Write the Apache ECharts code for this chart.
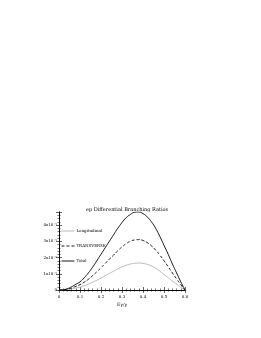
<!DOCTYPE html>
<html><head><meta charset="utf-8">
<script src="https://cdn.jsdelivr.net/npm/echarts@6/dist/echarts.min.js"></script>
<style>html,body{margin:0;padding:0;background:#fff}#c{width:261px;height:338px}</style>
</head><body><div id="c"></div>
<script>
const xValues = [0,0.02,0.04,0.06,0.08,0.10,0.12,0.14,0.16,0.18,0.20,0.22,0.24,0.26,0.28,0.30,0.32,0.34,0.36,0.38,0.40,0.42,0.44,0.46,0.48,0.50,0.52,0.54,0.56,0.58,0.60];
const totalVals = [0,0.02,0.08,0.2,0.35,0.5,0.75,1.05,1.4,1.8,2.2,2.6,3.0,3.4,3.8,4.15,4.45,4.65,4.78,4.8,4.7,4.5,4.2,3.8,3.3,2.75,2.2,1.6,1.05,0.5,0];
const transVals = [0,0.01,0.05,0.12,0.22,0.33,0.48,0.66,0.88,1.12,1.37,1.63,1.9,2.15,2.42,2.65,2.85,3.0,3.08,3.1,3.05,2.92,2.72,2.46,2.15,1.8,1.43,1.05,0.68,0.33,0];
const longVals = [0,0.01,0.03,0.07,0.12,0.18,0.26,0.36,0.48,0.6,0.74,0.88,1.02,1.16,1.3,1.42,1.52,1.6,1.64,1.66,1.64,1.58,1.48,1.34,1.16,0.96,0.76,0.55,0.37,0.17,0];
const seriesNames = ['Longitudinal','TRANSVERSE','Total'];
const xTickLabels = {'0':'0','0.1':'0.1','0.2':'0.2','0.3':'0.3','0.4':'0.4','0.5':'0.5','0.6':'0.6'};
const yTickLabels = {'0':'0','1':'1x10\u207B\u2075','2':'2x10\u207B\u2075','3':'3x10\u207B\u2075','4':'4x10\u207B\u2075'};
const titleText = 'ep Differential Branching Ratios';
const xTitle = 'E\u03B3/\u03B3';

const pair = (vals) => xValues.map((x,i)=>[x, vals[i]]);
const fnt = 'DejaVu Serif';
const axCommon = {
  axisLine:{show:true,lineStyle:{color:'#000',width:0.8}},
  axisTick:{show:true,inside:true,length:3,lineStyle:{color:'#000',width:0.6}},
  minorTick:{show:true,splitNumber:5,length:1.6,lineStyle:{color:'#000',width:0.5}},
  splitLine:{show:false}
};
const chart = echarts.init(document.getElementById('c'), null, {renderer:'canvas'});
chart.setOption({
  animation:false,
  backgroundColor:'#fff',
  title:{text:titleText,left:122,textAlign:'center',top:202,textStyle:{fontFamily:fnt,fontSize:5,fontWeight:'normal',color:'#000'}},
  legend:{orient:'vertical',left:56,top:224,itemGap:11,itemWidth:13,itemHeight:4,
    itemStyle:{opacity:0},
    lineStyle:{width:0.9},
    textStyle:{fontFamily:fnt,fontSize:4,color:'#000',padding:[0,0,0,-3]},
    data:seriesNames},
  grid:{left:59,right:76,top:212,bottom:48,containLabel:false},
  xAxis:[
    Object.assign({type:'value',min:0,max:0.6,interval:0.1,position:'bottom',
      name:xTitle,nameLocation:'middle',nameGap:12,
      nameTextStyle:{fontFamily:fnt,fontSize:4.5,color:'#000'},
      axisLabel:{fontFamily:fnt,fontSize:4,color:'#000',margin:5,formatter:v=>xTickLabels[String(+v.toFixed(1))]||''}},axCommon),
    Object.assign({type:'value',min:0,max:0.6,interval:0.1,position:'top',axisLabel:{show:false}},axCommon)
  ],
  yAxis:[
    Object.assign({type:'value',min:0,max:4.8,interval:1,position:'left',
      axisLabel:{fontFamily:fnt,fontSize:4,color:'#000',margin:2,formatter:v=>yTickLabels[String(v)]||''}},axCommon),
    Object.assign({type:'value',min:0,max:4.8,interval:1,position:'right',axisLabel:{show:false}},axCommon)
  ],
  series:[
    {name:seriesNames[0],type:'line',data:pair(longVals),showSymbol:false,symbol:'none',smooth:true,lineStyle:{color:'#b0b0b0',width:0.9},itemStyle:{color:'#b0b0b0'}},
    {name:seriesNames[1],type:'line',data:pair(transVals),showSymbol:false,symbol:'none',smooth:true,lineStyle:{color:'#000',width:0.9,type:[3,2]},itemStyle:{color:'#000'}},
    {name:seriesNames[2],type:'line',data:pair(totalVals),showSymbol:false,symbol:'none',smooth:true,lineStyle:{color:'#000',width:0.9},itemStyle:{color:'#000'}}
  ]
});
</script></body></html>
